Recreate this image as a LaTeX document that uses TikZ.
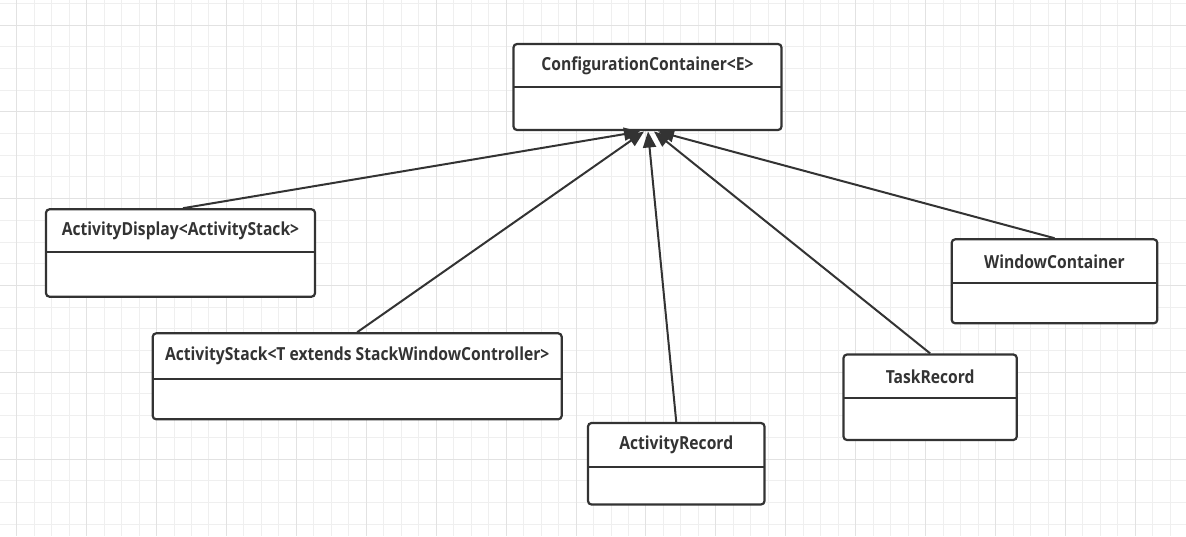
\documentclass[tikz,border=0pt]{standalone}
\usepackage{fontspec}
\newfontfamily\lblfont{Open Sans}[FakeStretch=0.87]
\usetikzlibrary{arrows.meta}
\definecolor{ink}{HTML}{333333}
\definecolor{gridminor}{HTML}{EFEFEF}
\definecolor{gridmajor}{HTML}{E2E2E2}
\tikzset{
  classbox/.style={draw=ink, fill=white, line width=2.2pt, rounded corners=3.5pt, inner sep=0pt, rectangle},
  divider/.style={draw=ink, line width=2.2pt},
  classtitle/.style={text=ink, inner sep=0pt, font=\lblfont\bfseries\fontsize{18}{20}\selectfont},
  inh/.style={draw=ink, line width=2pt, -{Triangle[length=16pt,width=13pt]}},
}
\newcommand{\umlclass}[7]{%
  \node[classbox, minimum width={(#4-#2)*1pt}, minimum height={(#5-#3)*1pt}] (#1) at ({(#2+#4)/2},{(#3+#5)/2}) {};
  \draw[divider] (#2,#6) -- (#4,#6);
  \node[classtitle] (#1-t) at ({(#2+#4)/2},{(#3+#6)/2}) {#7};
}
\begin{document}
\begin{tikzpicture}[x=1pt,y=-1pt]
\useasboundingbox (0,0) rectangle (1186,536);
\fill[white] (0,0) rectangle (1186,536);
% grid
\foreach \i in {0,...,67} {
  \draw[gridminor, line width=1pt] ({16.7+17.48*\i},0) -- ({16.7+17.48*\i},536);
}
\foreach \j in {0,...,24} {
  \draw[gridminor, line width=1pt] (0,{3.3+21.7*\j}) -- (1186,{3.3+21.7*\j});
}
\foreach \i in {0,...,16} {
  \draw[gridmajor, line width=1pt] ({16.7+69.92*\i},0) -- ({16.7+69.92*\i},536);
}
\foreach \j in {0,...,6} {
  \draw[gridmajor, line width=1pt] (0,{25+86.8*\j}) -- (1186,{25+86.8*\j});
}
% classes
\umlclass{cc}{513.5}{44}{781.5}{130}{86.7}{ConfigurationContainer<E>}
\umlclass{ad}{46}{209.3}{315}{296.7}{252.3}{ActivityDisplay<ActivityStack>}
\umlclass{as}{152.7}{333.3}{561.7}{419.3}{379.3}{ActivityStack<T extends StackWindowController>}
\umlclass{ar}{588}{423}{764.5}{504.5}{466.7}{ActivityRecord}
\umlclass{tr}{843.5}{354.5}{1016.8}{440}{398.3}{TaskRecord}
\umlclass{wc}{951.7}{239.3}{1157.3}{323.3}{283.3}{WindowContainer}
% arrow targets
\coordinate (t1) at (640,131.5);
\coordinate (t2) at (644,131.5);
\coordinate (t3) at (648,131.5);
\coordinate (t4) at (654,131.5);
\coordinate (t5) at (658,131.5);
\draw[inh] (ad.north -| 183,0) -- (t1);
\draw[inh] (as.north) -- (t2);
\draw[inh] (ar.north) -- (t3);
\draw[inh] (tr.north) -- (t4);
\draw[inh] (wc.north) -- (t5);
\end{tikzpicture}
\end{document}
